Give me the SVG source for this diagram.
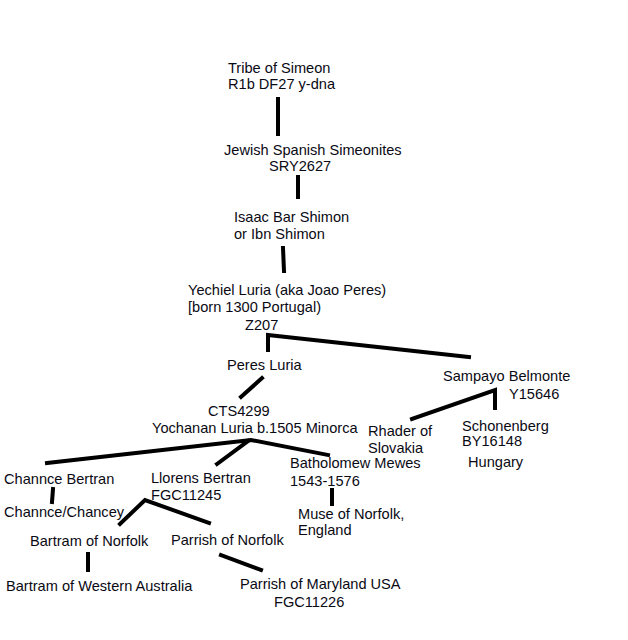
<svg xmlns="http://www.w3.org/2000/svg" width="628" height="640" viewBox="0 0 628 640">
<style>
  text { font-family: "Liberation Sans", Arial, sans-serif; font-size: 14.6px; fill: #0a0a14; }
  .c { fill: none; stroke: #000; stroke-width: 4; stroke-linecap: square; stroke-linejoin: miter; }
</style>
<rect width="628" height="640" fill="#fff"/>
<g id="connectors">
  <path class="c" d="M278,99 L278,134"/>
  <path class="c" d="M298,177 L298,197"/>
  <path class="c" d="M283,248 L284,271"/>
  <path class="c" d="M268,350 L268,335 L469,357"/>
  <path class="c" d="M262,378 L241,397"/>
  <path class="c" d="M47,463 L251,440 L328,455"/>
  <path class="c" d="M217,464 L248,441"/>
  <path class="c" d="M53,489 L52,502"/>
  <path class="c" d="M120,524 L145,500 L209,523"/>
  <path class="c" d="M332,490 L332,504"/>
  <path class="c" d="M88,554 L88,570"/>
  <path class="c" d="M221,555 L261,570"/>
  <path class="c" d="M412,419 L495,390 L495,408"/>
</g>
<g id="n-simeon"><text x="228" y="73">Tribe of Simeon</text><text x="228" y="89">R1b DF27 y-dna</text></g>
<g id="n-jewish"><text x="224" y="155">Jewish Spanish Simeonites</text><text x="269" y="171">SRY2627</text></g>
<g id="n-isaac"><text x="234" y="222">Isaac Bar Shimon</text><text x="234" y="239">or Ibn Shimon</text></g>
<g id="n-yechiel"><text x="188" y="295">Yechiel Luria (aka Joao Peres)</text><text x="188" y="312">[born 1300 Portugal)</text><text x="245" y="330">Z207</text></g>
<g id="n-peres"><text x="227" y="370">Peres Luria</text></g>
<g id="n-yochanan"><text x="208" y="416">CTS4299</text><text x="152" y="433">Yochanan Luria b.1505 Minorca</text></g>
<g id="n-sampayo"><text x="443" y="381">Sampayo Belmonte</text><text x="509" y="399">Y15646</text></g>
<g id="n-rhader"><text x="368" y="436">Rhader of</text><text x="368" y="453">Slovakia</text></g>
<g id="n-schonenberg"><text x="462" y="431">Schonenberg</text><text x="462" y="446">BY16148</text><text x="468" y="467">Hungary</text></g>
<g id="n-channce"><text x="4" y="484">Channce Bertran</text></g>
<g id="n-chancey"><text x="4" y="517">Channce/Chancey</text></g>
<g id="n-llorens"><text x="151" y="483">Llorens Bertran</text><text x="151" y="500">FGC11245</text></g>
<g id="n-batholomew"><text x="290" y="468">Batholomew Mewes</text><text x="290" y="486">1543-1576</text></g>
<g id="n-muse"><text x="298" y="519">Muse of Norfolk,</text><text x="298" y="535">England</text></g>
<g id="n-bartram"><text x="30" y="546">Bartram of Norfolk</text></g>
<g id="n-parrish"><text x="171" y="545">Parrish of Norfolk</text></g>
<g id="n-bartram-wa"><text x="6" y="591">Bartram of Western Australia</text></g>
<g id="n-parrish-md"><text x="240" y="589">Parrish of Maryland USA</text><text x="274" y="607">FGC11226</text></g>
</svg>
